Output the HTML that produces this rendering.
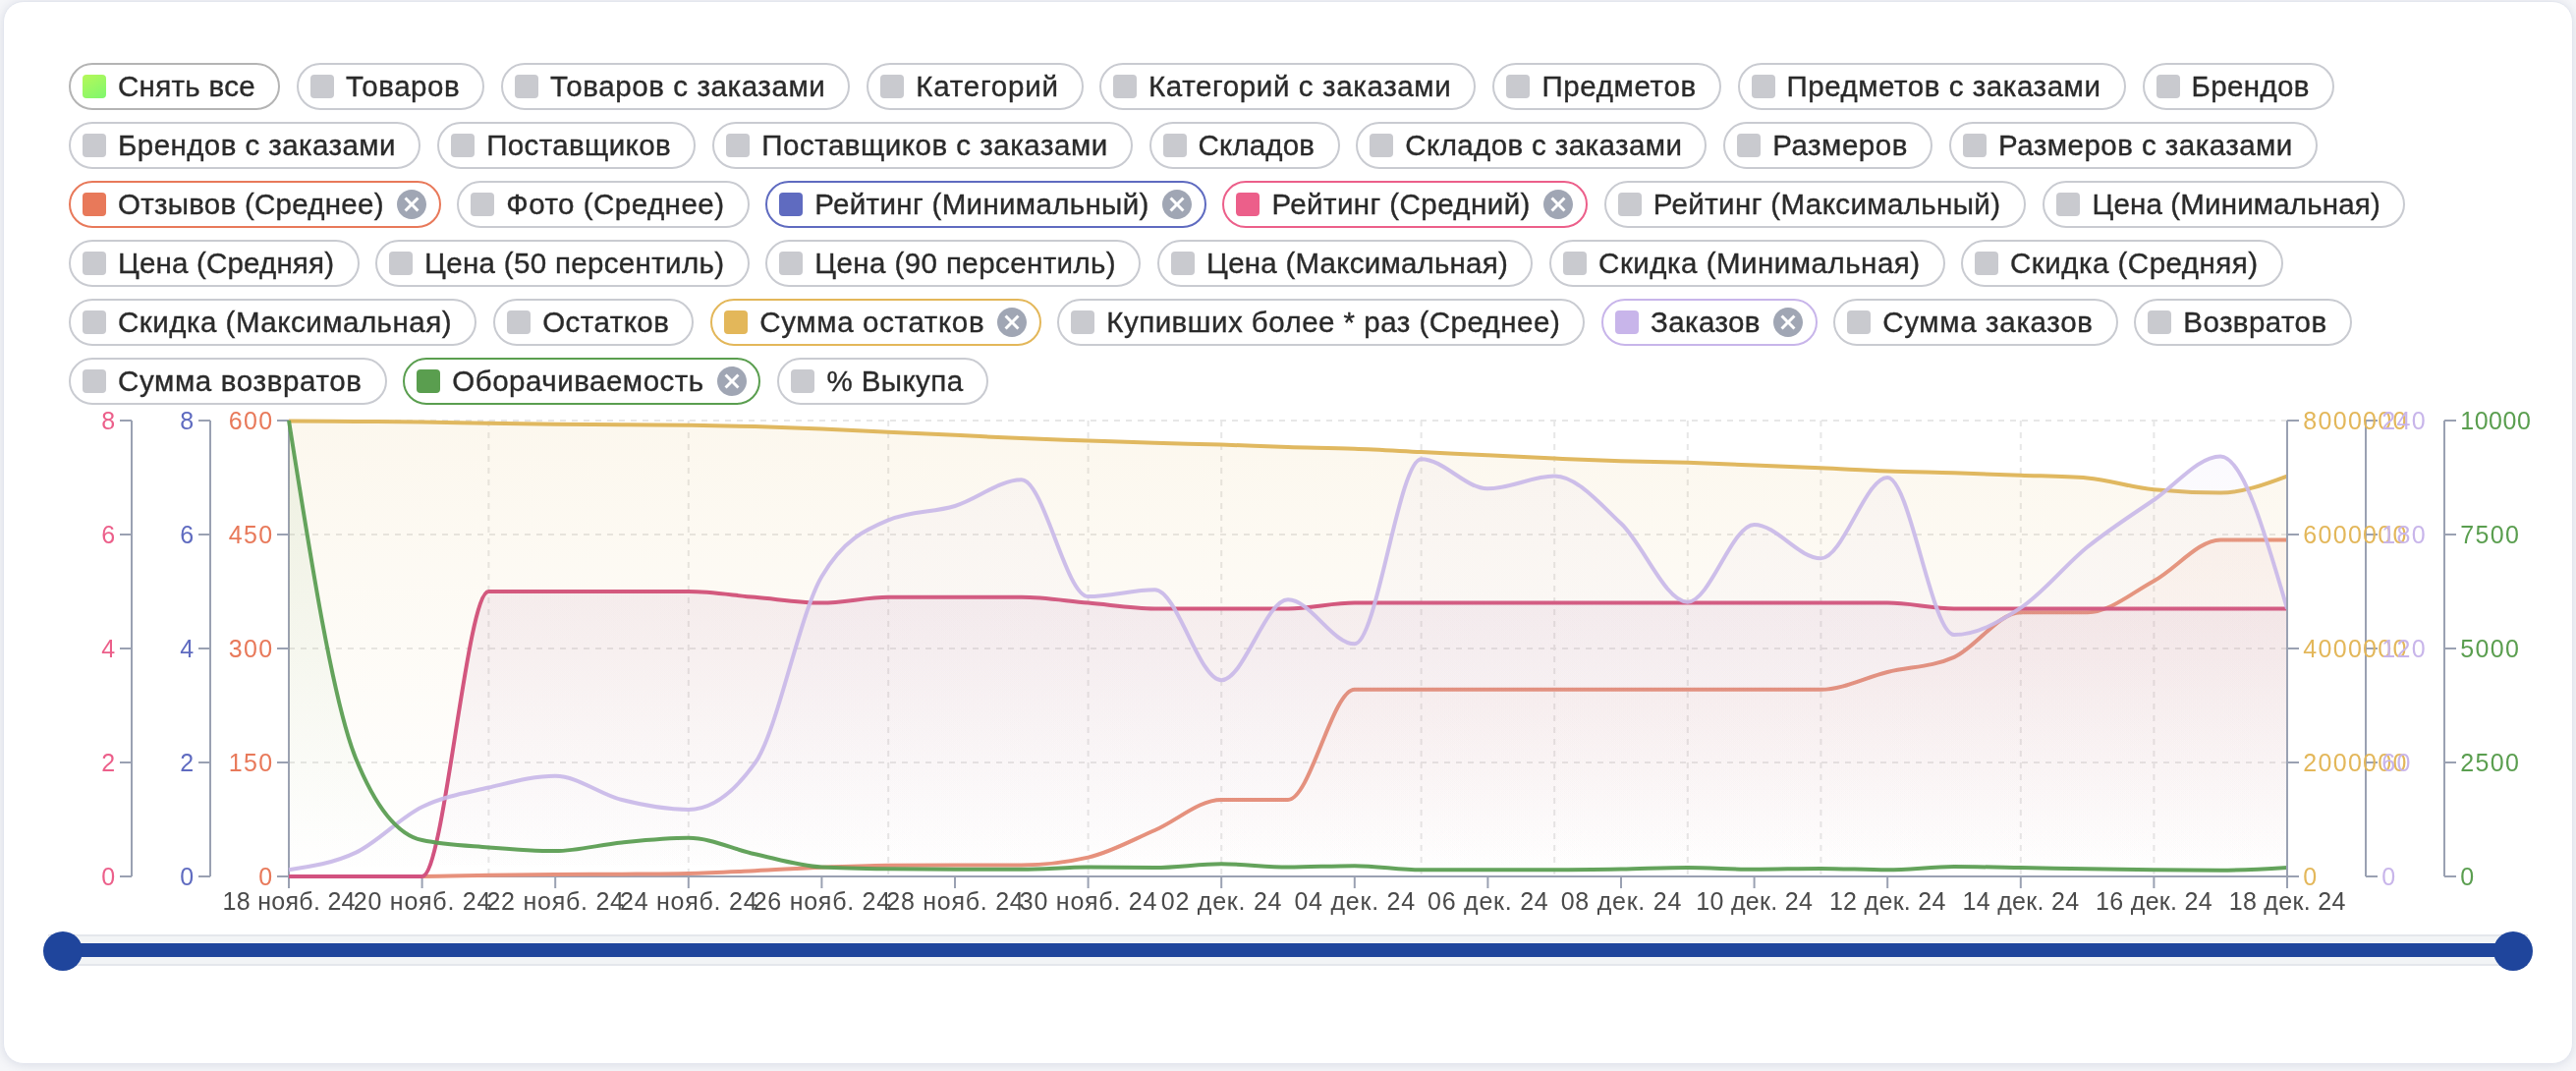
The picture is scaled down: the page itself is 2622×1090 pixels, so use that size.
<!DOCTYPE html>
<html lang="ru"><head><meta charset="utf-8"><title>chart</title>
<style>
html,body{margin:0;padding:0}
body{width:2622px;height:1090px;overflow:hidden;background:#F5F6F9;font-family:"Liberation Sans",sans-serif;position:relative}
#root{position:absolute;left:0;top:0;width:2622px;height:1090px;will-change:transform;transform:translateZ(0)}
.card{position:absolute;left:3px;top:1px;width:2614px;height:1080px;background:#fff;border:1px solid #E3E6EE;border-radius:21px;box-shadow:0 1px 9px 1px rgba(208,211,222,.62)}
.chip{position:absolute;height:48px;box-sizing:border-box;border:2px solid #C9CBD1;border-radius:24px;background:#fff;color:#2A2A2A;font-size:29.5px;line-height:44px;white-space:nowrap}
.chip i{position:absolute;left:12px;top:10px;width:24px;height:24px;border-radius:4px;display:block}
.chip .t{-webkit-text-stroke:0.35px #2A2A2A;position:absolute;left:48.0px;top:0px;display:inline-block}
.chip .x{position:absolute;right:9.6px;top:4px;width:36px;height:36px;fill:#A0A6B4}
.chart{position:absolute;left:0;top:0}
.track{position:absolute;left:49px;top:951px;width:2524px;height:32px;box-sizing:border-box;background:#F2F4F6;border-top:2px solid #E4E7EC;border-bottom:2px solid #E4E7EC}
.bar{position:absolute;left:64px;top:960px;width:2494px;height:14px;background:#1F459C}
.thumb{position:absolute;top:948px;width:40px;height:40px;border-radius:50%;background:#1F459C}
</style></head>
<body>
<div id="root">
<div class="card"></div>
<div class="chip" style="left:70.0px;top:64px;width:215.3px;border-color:#B4B4B4"><i style="background:linear-gradient(150deg,#B6F859 0%,#7EF76E 100%)"></i><span class="t" style="letter-spacing:0.318px;">Снять все</span></div>
<div class="chip" style="left:302.0px;top:64px;width:191.3px;border-color:#C9CBD1"><i style="background:#C9CACF"></i><span class="t" style="letter-spacing:0.557px;">Товаров</span></div>
<div class="chip" style="left:510.0px;top:64px;width:355.4px;border-color:#C9CBD1"><i style="background:#C9CACF"></i><span class="t" style="letter-spacing:0.591px;">Товаров с заказами</span></div>
<div class="chip" style="left:882.2px;top:64px;width:220.4px;border-color:#C9CBD1"><i style="background:#C9CACF"></i><span class="t" style="letter-spacing:0.797px;">Категорий</span></div>
<div class="chip" style="left:1119.0px;top:64px;width:383.3px;border-color:#C9CBD1"><i style="background:#C9CACF"></i><span class="t" style="letter-spacing:0.626px;">Категорий с заказами</span></div>
<div class="chip" style="left:1519.4px;top:64px;width:232.4px;border-color:#C9CBD1"><i style="background:#C9CACF"></i><span class="t" style="letter-spacing:0.655px;">Предметов</span></div>
<div class="chip" style="left:1768.5px;top:64px;width:395.0px;border-color:#C9CBD1"><i style="background:#C9CACF"></i><span class="t" style="letter-spacing:0.550px;">Предметов с заказами</span></div>
<div class="chip" style="left:2180.5px;top:64px;width:195.5px;border-color:#C9CBD1"><i style="background:#C9CACF"></i><span class="t" style="letter-spacing:0.356px;">Брендов</span></div>
<div class="chip" style="left:70.0px;top:124px;width:358.1px;border-color:#C9CBD1"><i style="background:#C9CACF"></i><span class="t" style="letter-spacing:0.432px;">Брендов с заказами</span></div>
<div class="chip" style="left:445.2px;top:124px;width:263.0px;border-color:#C9CBD1"><i style="background:#C9CACF"></i><span class="t" style="letter-spacing:0.371px;">Поставщиков</span></div>
<div class="chip" style="left:725.3px;top:124px;width:427.5px;border-color:#C9CBD1"><i style="background:#C9CACF"></i><span class="t" style="letter-spacing:0.515px;">Поставщиков с заказами</span></div>
<div class="chip" style="left:1169.5px;top:124px;width:194.1px;border-color:#C9CBD1"><i style="background:#C9CACF"></i><span class="t" style="letter-spacing:0.174px;">Складов</span></div>
<div class="chip" style="left:1380.3px;top:124px;width:357.2px;border-color:#C9CBD1"><i style="background:#C9CACF"></i><span class="t" style="letter-spacing:0.397px;">Складов с заказами</span></div>
<div class="chip" style="left:1754.2px;top:124px;width:212.8px;border-color:#C9CBD1"><i style="background:#C9CACF"></i><span class="t" style="letter-spacing:0.531px;">Размеров</span></div>
<div class="chip" style="left:1984.1px;top:124px;width:374.8px;border-color:#C9CBD1"><i style="background:#C9CACF"></i><span class="t" style="letter-spacing:0.463px;">Размеров с заказами</span></div>
<div class="chip" style="left:70.0px;top:184px;width:378.8px;border-color:#E8795A"><i style="background:#E8795A"></i><span class="t" style="letter-spacing:0.266px;">Отзывов (Среднее)</span><svg class="x" viewBox="0 0 24 24"><path d="M12 2C6.47 2 2 6.47 2 12s4.47 10 10 10 10-4.47 10-10S17.53 2 12 2zm5 13.59L15.59 17 12 13.41 8.41 17 7 15.59 10.59 12 7 8.41 8.41 7 12 10.59 15.59 7 17 8.41 13.41 12 17 15.59z"/></svg></div>
<div class="chip" style="left:465.3px;top:184px;width:297.3px;border-color:#C9CBD1"><i style="background:#C9CACF"></i><span class="t" style="letter-spacing:0.484px;">Фото (Среднее)</span></div>
<div class="chip" style="left:779.3px;top:184px;width:448.3px;border-color:#5F6BC0"><i style="background:#5F6BC0"></i><span class="t" style="letter-spacing:0.339px;">Рейтинг (Минимальный)</span><svg class="x" viewBox="0 0 24 24"><path d="M12 2C6.47 2 2 6.47 2 12s4.47 10 10 10 10-4.47 10-10S17.53 2 12 2zm5 13.59L15.59 17 12 13.41 8.41 17 7 15.59 10.59 12 7 8.41 8.41 7 12 10.59 15.59 7 17 8.41 13.41 12 17 15.59z"/></svg></div>
<div class="chip" style="left:1244.4px;top:184px;width:371.3px;border-color:#EC5F8A"><i style="background:#EC5F8A"></i><span class="t" style="letter-spacing:0.432px;">Рейтинг (Средний)</span><svg class="x" viewBox="0 0 24 24"><path d="M12 2C6.47 2 2 6.47 2 12s4.47 10 10 10 10-4.47 10-10S17.53 2 12 2zm5 13.59L15.59 17 12 13.41 8.41 17 7 15.59 10.59 12 7 8.41 8.41 7 12 10.59 15.59 7 17 8.41 13.41 12 17 15.59z"/></svg></div>
<div class="chip" style="left:1632.8px;top:184px;width:428.8px;border-color:#C9CBD1"><i style="background:#C9CACF"></i><span class="t" style="letter-spacing:0.382px;">Рейтинг (Максимальный)</span></div>
<div class="chip" style="left:2079.4px;top:184px;width:369.0px;border-color:#C9CBD1"><i style="background:#C9CACF"></i><span class="t" style="letter-spacing:0.168px;">Цена (Минимальная)</span></div>
<div class="chip" style="left:70.0px;top:244px;width:295.6px;border-color:#C9CBD1"><i style="background:#C9CACF"></i><span class="t" style="letter-spacing:0.177px;">Цена (Средняя)</span></div>
<div class="chip" style="left:382.0px;top:244px;width:380.6px;border-color:#C9CBD1"><i style="background:#C9CACF"></i><span class="t" style="letter-spacing:0.337px;">Цена (50 персентиль)</span></div>
<div class="chip" style="left:779.3px;top:244px;width:382.0px;border-color:#C9CBD1"><i style="background:#C9CACF"></i><span class="t" style="letter-spacing:0.411px;">Цена (90 персентиль)</span></div>
<div class="chip" style="left:1178.1px;top:244px;width:382.3px;border-color:#C9CBD1"><i style="background:#C9CACF"></i><span class="t" style="letter-spacing:0.233px;">Цена (Максимальная)</span></div>
<div class="chip" style="left:1577.1px;top:244px;width:402.6px;border-color:#C9CBD1"><i style="background:#C9CACF"></i><span class="t" style="letter-spacing:0.501px;">Скидка (Минимальная)</span></div>
<div class="chip" style="left:1996.0px;top:244px;width:327.7px;border-color:#C9CBD1"><i style="background:#C9CACF"></i><span class="t" style="letter-spacing:0.497px;">Скидка (Средняя)</span></div>
<div class="chip" style="left:70.0px;top:304px;width:415.1px;border-color:#C9CBD1"><i style="background:#C9CACF"></i><span class="t" style="letter-spacing:0.503px;">Скидка (Максимальная)</span></div>
<div class="chip" style="left:502.2px;top:304px;width:204.3px;border-color:#C9CBD1"><i style="background:#C9CACF"></i><span class="t" style="letter-spacing:0.462px;">Остатков</span></div>
<div class="chip" style="left:723.3px;top:304px;width:336.6px;border-color:#E3B75A"><i style="background:#E3B75A"></i><span class="t" style="letter-spacing:0.653px;">Сумма остатков</span><svg class="x" viewBox="0 0 24 24"><path d="M12 2C6.47 2 2 6.47 2 12s4.47 10 10 10 10-4.47 10-10S17.53 2 12 2zm5 13.59L15.59 17 12 13.41 8.41 17 7 15.59 10.59 12 7 8.41 8.41 7 12 10.59 15.59 7 17 8.41 13.41 12 17 15.59z"/></svg></div>
<div class="chip" style="left:1076.3px;top:304px;width:537.0px;border-color:#C9CBD1"><i style="background:#C9CACF"></i><span class="t" style="letter-spacing:0.485px;">Купивших более * раз (Среднее)</span></div>
<div class="chip" style="left:1630.1px;top:304px;width:219.7px;border-color:#C8B5EA"><i style="background:#C8B5EA"></i><span class="t" style="letter-spacing:0.377px;">Заказов</span><svg class="x" viewBox="0 0 24 24"><path d="M12 2C6.47 2 2 6.47 2 12s4.47 10 10 10 10-4.47 10-10S17.53 2 12 2zm5 13.59L15.59 17 12 13.41 8.41 17 7 15.59 10.59 12 7 8.41 8.41 7 12 10.59 15.59 7 17 8.41 13.41 12 17 15.59z"/></svg></div>
<div class="chip" style="left:1866.2px;top:304px;width:289.4px;border-color:#C9CBD1"><i style="background:#C9CACF"></i><span class="t" style="letter-spacing:0.672px;">Сумма заказов</span></div>
<div class="chip" style="left:2172.3px;top:304px;width:221.4px;border-color:#C9CBD1"><i style="background:#C9CACF"></i><span class="t" style="letter-spacing:0.428px;">Возвратов</span></div>
<div class="chip" style="left:70.0px;top:364px;width:323.6px;border-color:#C9CBD1"><i style="background:#C9CACF"></i><span class="t" style="letter-spacing:0.647px;">Сумма возвратов</span></div>
<div class="chip" style="left:410.3px;top:364px;width:364.2px;border-color:#5A9E4F"><i style="background:#5A9E4F"></i><span class="t" style="letter-spacing:0.512px;">Оборачиваемость</span><svg class="x" viewBox="0 0 24 24"><path d="M12 2C6.47 2 2 6.47 2 12s4.47 10 10 10 10-4.47 10-10S17.53 2 12 2zm5 13.59L15.59 17 12 13.41 8.41 17 7 15.59 10.59 12 7 8.41 8.41 7 12 10.59 15.59 7 17 8.41 13.41 12 17 15.59z"/></svg></div>
<div class="chip" style="left:791.4px;top:364px;width:214.3px;border-color:#C9CBD1"><i style="background:#C9CACF"></i><span class="t" style="letter-spacing:0.430px;">% Выкупа</span></div>
<svg class="chart" width="2622" height="1090" viewBox="0 0 2622 1090">
<defs>
<linearGradient id="g_orange" gradientUnits="userSpaceOnUse" x1="0" y1="428.0" x2="0" y2="892.0"><stop offset="0" stop-color="#E8795A" stop-opacity="0.075"/><stop offset="1" stop-color="#E8795A" stop-opacity="0.0"/></linearGradient>
<linearGradient id="g_indigo" gradientUnits="userSpaceOnUse" x1="0" y1="428.0" x2="0" y2="892.0"><stop offset="0" stop-color="#5F6BC0" stop-opacity="0.082"/><stop offset="1" stop-color="#5F6BC0" stop-opacity="0.0"/></linearGradient>
<linearGradient id="g_pink" gradientUnits="userSpaceOnUse" x1="0" y1="428.0" x2="0" y2="892.0"><stop offset="0" stop-color="#EC5F8A" stop-opacity="0.082"/><stop offset="1" stop-color="#EC5F8A" stop-opacity="0.0"/></linearGradient>
<linearGradient id="g_gold" gradientUnits="userSpaceOnUse" x1="0" y1="428.0" x2="0" y2="892.0"><stop offset="0" stop-color="#E3B75A" stop-opacity="0.105"/><stop offset="1" stop-color="#E3B75A" stop-opacity="0.0"/></linearGradient>
<linearGradient id="g_lav" gradientUnits="userSpaceOnUse" x1="0" y1="428.0" x2="0" y2="892.0"><stop offset="0" stop-color="#C8B5EA" stop-opacity="0.075"/><stop offset="1" stop-color="#C8B5EA" stop-opacity="0.0"/></linearGradient>
<linearGradient id="g_green" gradientUnits="userSpaceOnUse" x1="0" y1="428.0" x2="0" y2="892.0"><stop offset="0" stop-color="#5A9E4F" stop-opacity="0.095"/><stop offset="1" stop-color="#5A9E4F" stop-opacity="0.0"/></linearGradient>
<clipPath id="plot"><rect x="292.0" y="420.0" width="2036.6" height="476.0"/></clipPath>
</defs>
<g stroke="#E7E7E7" stroke-width="2" stroke-dasharray="6 6" fill="none">
<line x1="294.0" y1="892.0" x2="2328.0" y2="892.0"/>
<line x1="294.0" y1="776.0" x2="2328.0" y2="776.0"/>
<line x1="294.0" y1="660.0" x2="2328.0" y2="660.0"/>
<line x1="294.0" y1="544.0" x2="2328.0" y2="544.0"/>
<line x1="294.0" y1="428.0" x2="2328.0" y2="428.0"/>
<line x1="294.00" y1="428.0" x2="294.00" y2="892.0"/>
<line x1="497.40" y1="428.0" x2="497.40" y2="892.0"/>
<line x1="700.80" y1="428.0" x2="700.80" y2="892.0"/>
<line x1="904.20" y1="428.0" x2="904.20" y2="892.0"/>
<line x1="1107.60" y1="428.0" x2="1107.60" y2="892.0"/>
<line x1="1243.20" y1="428.0" x2="1243.20" y2="892.0"/>
<line x1="1446.60" y1="428.0" x2="1446.60" y2="892.0"/>
<line x1="1582.20" y1="428.0" x2="1582.20" y2="892.0"/>
<line x1="1717.80" y1="428.0" x2="1717.80" y2="892.0"/>
<line x1="1853.40" y1="428.0" x2="1853.40" y2="892.0"/>
<line x1="2056.80" y1="428.0" x2="2056.80" y2="892.0"/>
<line x1="2192.40" y1="428.0" x2="2192.40" y2="892.0"/>
<line x1="2328.00" y1="428.0" x2="2328.00" y2="892.0"/>
</g>
<g stroke="#9AA1B2" stroke-width="2" fill="none">
<line x1="294.0" y1="892.0" x2="2328.0" y2="892.0"/>
<line x1="294.00" y1="892.0" x2="294.00" y2="904.0"/>
<line x1="429.60" y1="892.0" x2="429.60" y2="904.0"/>
<line x1="565.20" y1="892.0" x2="565.20" y2="904.0"/>
<line x1="700.80" y1="892.0" x2="700.80" y2="904.0"/>
<line x1="836.40" y1="892.0" x2="836.40" y2="904.0"/>
<line x1="972.00" y1="892.0" x2="972.00" y2="904.0"/>
<line x1="1107.60" y1="892.0" x2="1107.60" y2="904.0"/>
<line x1="1243.20" y1="892.0" x2="1243.20" y2="904.0"/>
<line x1="1378.80" y1="892.0" x2="1378.80" y2="904.0"/>
<line x1="1514.40" y1="892.0" x2="1514.40" y2="904.0"/>
<line x1="1650.00" y1="892.0" x2="1650.00" y2="904.0"/>
<line x1="1785.60" y1="892.0" x2="1785.60" y2="904.0"/>
<line x1="1921.20" y1="892.0" x2="1921.20" y2="904.0"/>
<line x1="2056.80" y1="892.0" x2="2056.80" y2="904.0"/>
<line x1="2192.40" y1="892.0" x2="2192.40" y2="904.0"/>
<line x1="2328.00" y1="892.0" x2="2328.00" y2="904.0"/>
<line x1="134" y1="428.0" x2="134" y2="892.0"/>
<line x1="122" y1="892.0" x2="134" y2="892.0"/>
<line x1="122" y1="776.0" x2="134" y2="776.0"/>
<line x1="122" y1="660.0" x2="134" y2="660.0"/>
<line x1="122" y1="544.0" x2="134" y2="544.0"/>
<line x1="122" y1="428.0" x2="134" y2="428.0"/>
<line x1="214" y1="428.0" x2="214" y2="892.0"/>
<line x1="202" y1="892.0" x2="214" y2="892.0"/>
<line x1="202" y1="776.0" x2="214" y2="776.0"/>
<line x1="202" y1="660.0" x2="214" y2="660.0"/>
<line x1="202" y1="544.0" x2="214" y2="544.0"/>
<line x1="202" y1="428.0" x2="214" y2="428.0"/>
<line x1="294" y1="428.0" x2="294" y2="892.0"/>
<line x1="282" y1="892.0" x2="294" y2="892.0"/>
<line x1="282" y1="776.0" x2="294" y2="776.0"/>
<line x1="282" y1="660.0" x2="294" y2="660.0"/>
<line x1="282" y1="544.0" x2="294" y2="544.0"/>
<line x1="282" y1="428.0" x2="294" y2="428.0"/>
<line x1="2328" y1="428.0" x2="2328" y2="892.0"/>
<line x1="2328" y1="892.0" x2="2340" y2="892.0"/>
<line x1="2328" y1="776.0" x2="2340" y2="776.0"/>
<line x1="2328" y1="660.0" x2="2340" y2="660.0"/>
<line x1="2328" y1="544.0" x2="2340" y2="544.0"/>
<line x1="2328" y1="428.0" x2="2340" y2="428.0"/>
<line x1="2408" y1="428.0" x2="2408" y2="892.0"/>
<line x1="2408" y1="892.0" x2="2420" y2="892.0"/>
<line x1="2408" y1="776.0" x2="2420" y2="776.0"/>
<line x1="2408" y1="660.0" x2="2420" y2="660.0"/>
<line x1="2408" y1="544.0" x2="2420" y2="544.0"/>
<line x1="2408" y1="428.0" x2="2420" y2="428.0"/>
<line x1="2488" y1="428.0" x2="2488" y2="892.0"/>
<line x1="2488" y1="892.0" x2="2500" y2="892.0"/>
<line x1="2488" y1="776.0" x2="2500" y2="776.0"/>
<line x1="2488" y1="660.0" x2="2500" y2="660.0"/>
<line x1="2488" y1="544.0" x2="2500" y2="544.0"/>
<line x1="2488" y1="428.0" x2="2500" y2="428.0"/>
</g>
<g font-size="25" letter-spacing="1.3" font-family="Liberation Sans, sans-serif">
<text x="118.4" y="901.0" text-anchor="end" letter-spacing="1.3" fill="#EC5F8A">0</text><text x="118.4" y="785.0" text-anchor="end" letter-spacing="1.3" fill="#EC5F8A">2</text><text x="118.4" y="669.0" text-anchor="end" letter-spacing="1.3" fill="#EC5F8A">4</text><text x="118.4" y="553.0" text-anchor="end" letter-spacing="1.3" fill="#EC5F8A">6</text><text x="118.4" y="437.0" text-anchor="end" letter-spacing="1.3" fill="#EC5F8A">8</text>
<text x="198.4" y="901.0" text-anchor="end" letter-spacing="1.3" fill="#5F6BC0">0</text><text x="198.4" y="785.0" text-anchor="end" letter-spacing="1.3" fill="#5F6BC0">2</text><text x="198.4" y="669.0" text-anchor="end" letter-spacing="1.3" fill="#5F6BC0">4</text><text x="198.4" y="553.0" text-anchor="end" letter-spacing="1.3" fill="#5F6BC0">6</text><text x="198.4" y="437.0" text-anchor="end" letter-spacing="1.3" fill="#5F6BC0">8</text>
<text x="278.4" y="901.0" text-anchor="end" letter-spacing="1.3" fill="#E8795A">0</text><text x="278.4" y="785.0" text-anchor="end" letter-spacing="1.3" fill="#E8795A">150</text><text x="278.4" y="669.0" text-anchor="end" letter-spacing="1.3" fill="#E8795A">300</text><text x="278.4" y="553.0" text-anchor="end" letter-spacing="1.3" fill="#E8795A">450</text><text x="278.4" y="437.0" text-anchor="end" letter-spacing="1.3" fill="#E8795A">600</text>
<text x="2344.3" y="901.0" text-anchor="start" letter-spacing="1.3" fill="#E3B75A">0</text><text x="2344.3" y="785.0" text-anchor="start" letter-spacing="1.3" fill="#E3B75A">2000000</text><text x="2344.3" y="669.0" text-anchor="start" letter-spacing="1.3" fill="#E3B75A">4000000</text><text x="2344.3" y="553.0" text-anchor="start" letter-spacing="1.3" fill="#E3B75A">6000000</text><text x="2344.3" y="437.0" text-anchor="start" letter-spacing="1.3" fill="#E3B75A">8000000</text>
<text x="2424.3" y="901.0" text-anchor="start" letter-spacing="1.3" fill="#C8B5EA">0</text><text x="2424.3" y="785.0" text-anchor="start" letter-spacing="1.3" fill="#C8B5EA">60</text><text x="2424.3" y="669.0" text-anchor="start" letter-spacing="1.3" fill="#C8B5EA">120</text><text x="2424.3" y="553.0" text-anchor="start" letter-spacing="1.3" fill="#C8B5EA">180</text><text x="2424.3" y="437.0" text-anchor="start" letter-spacing="1.3" fill="#C8B5EA">240</text>
<text x="2504.3" y="901.0" text-anchor="start" letter-spacing="1.3" fill="#5A9E4F">0</text><text x="2504.3" y="785.0" text-anchor="start" letter-spacing="1.3" fill="#5A9E4F">2500</text><text x="2504.3" y="669.0" text-anchor="start" letter-spacing="1.3" fill="#5A9E4F">5000</text><text x="2504.3" y="553.0" text-anchor="start" letter-spacing="1.3" fill="#5A9E4F">7500</text><text x="2504.3" y="437.0" text-anchor="start" letter-spacing="0.5" fill="#5A9E4F">10000</text>
</g>
<g font-size="25" fill="#4A4A4A" text-anchor="middle" font-family="Liberation Sans, sans-serif">
<text x="294.15" y="925.5" letter-spacing="0.3">18 нояб. 24</text>
<text x="429.98" y="925.5" letter-spacing="0.75">20 нояб. 24</text>
<text x="565.58" y="925.5" letter-spacing="0.75">22 нояб. 24</text>
<text x="701.17" y="925.5" letter-spacing="0.75">24 нояб. 24</text>
<text x="836.77" y="925.5" letter-spacing="0.75">26 нояб. 24</text>
<text x="972.38" y="925.5" letter-spacing="0.75">28 нояб. 24</text>
<text x="1107.97" y="925.5" letter-spacing="0.75">30 нояб. 24</text>
<text x="1243.57" y="925.5" letter-spacing="0.75">02 дек. 24</text>
<text x="1379.17" y="925.5" letter-spacing="0.75">04 дек. 24</text>
<text x="1514.77" y="925.5" letter-spacing="0.75">06 дек. 24</text>
<text x="1650.38" y="925.5" letter-spacing="0.75">08 дек. 24</text>
<text x="1785.75" y="925.5" letter-spacing="0.3">10 дек. 24</text>
<text x="1921.35" y="925.5" letter-spacing="0.3">12 дек. 24</text>
<text x="2056.95" y="925.5" letter-spacing="0.3">14 дек. 24</text>
<text x="2192.55" y="925.5" letter-spacing="0.3">16 дек. 24</text>
<text x="2328.15" y="925.5" letter-spacing="0.3">18 дек. 24</text>
</g>
<g clip-path="url(#plot)">
<path d="M294.00,892.00C316.60,892.00,339.20,892.00,361.80,892.00C384.40,892.00,407.00,892.00,429.60,892.00C452.20,892.00,474.80,891.16,497.40,890.84C520.00,890.52,542.60,890.26,565.20,890.07C587.80,889.87,610.40,889.87,633.00,889.68C655.60,889.49,678.20,889.42,700.80,888.91C723.40,888.39,746.00,887.23,768.60,886.20C791.20,885.17,813.80,883.64,836.40,882.72C859.00,881.80,881.60,880.92,904.20,880.71C926.80,880.50,949.40,880.40,972.00,880.40C994.60,880.40,1017.20,880.40,1039.80,880.40C1062.40,880.40,1085.00,877.82,1107.60,872.67C1130.20,867.51,1152.80,854.78,1175.40,844.98C1198.00,835.19,1220.60,813.89,1243.20,813.89C1265.80,813.89,1288.40,813.89,1311.00,813.89C1333.60,813.89,1356.20,701.76,1378.80,701.76C1401.40,701.76,1424.00,701.76,1446.60,701.76C1469.20,701.76,1491.80,701.76,1514.40,701.76C1537.00,701.76,1559.60,701.76,1582.20,701.76C1604.80,701.76,1627.40,701.76,1650.00,701.76C1672.60,701.76,1695.20,701.76,1717.80,701.76C1740.40,701.76,1763.00,701.76,1785.60,701.76C1808.20,701.76,1830.80,701.76,1853.40,701.76C1876.00,701.76,1898.60,689.45,1921.20,683.97C1943.80,678.50,1966.40,678.95,1989.00,668.89C2011.60,658.84,2034.20,623.19,2056.80,623.19C2079.40,623.19,2102.00,623.19,2124.60,623.19C2147.20,623.19,2169.80,603.47,2192.40,591.17C2215.00,578.88,2237.60,549.41,2260.20,549.41C2282.80,549.41,2305.40,549.41,2328.00,549.41L2328.00,892.00L294.00,892.00Z" fill="url(#g_orange)" stroke="none"/><path d="M294.00,892.00C316.60,892.00,339.20,892.00,361.80,892.00C384.40,892.00,407.00,892.00,429.60,892.00C452.20,892.00,474.80,891.16,497.40,890.84C520.00,890.52,542.60,890.26,565.20,890.07C587.80,889.87,610.40,889.87,633.00,889.68C655.60,889.49,678.20,889.42,700.80,888.91C723.40,888.39,746.00,887.23,768.60,886.20C791.20,885.17,813.80,883.64,836.40,882.72C859.00,881.80,881.60,880.92,904.20,880.71C926.80,880.50,949.40,880.40,972.00,880.40C994.60,880.40,1017.20,880.40,1039.80,880.40C1062.40,880.40,1085.00,877.82,1107.60,872.67C1130.20,867.51,1152.80,854.78,1175.40,844.98C1198.00,835.19,1220.60,813.89,1243.20,813.89C1265.80,813.89,1288.40,813.89,1311.00,813.89C1333.60,813.89,1356.20,701.76,1378.80,701.76C1401.40,701.76,1424.00,701.76,1446.60,701.76C1469.20,701.76,1491.80,701.76,1514.40,701.76C1537.00,701.76,1559.60,701.76,1582.20,701.76C1604.80,701.76,1627.40,701.76,1650.00,701.76C1672.60,701.76,1695.20,701.76,1717.80,701.76C1740.40,701.76,1763.00,701.76,1785.60,701.76C1808.20,701.76,1830.80,701.76,1853.40,701.76C1876.00,701.76,1898.60,689.45,1921.20,683.97C1943.80,678.50,1966.40,678.95,1989.00,668.89C2011.60,658.84,2034.20,623.19,2056.80,623.19C2079.40,623.19,2102.00,623.19,2124.60,623.19C2147.20,623.19,2169.80,603.47,2192.40,591.17C2215.00,578.88,2237.60,549.41,2260.20,549.41C2282.80,549.41,2305.40,549.41,2328.00,549.41" fill="none" stroke="#E7917C" stroke-width="4" stroke-opacity="1.0" stroke-linejoin="round" stroke-linecap="butt"/>
<path d="M294.00,892.00C316.60,892.00,339.20,892.00,361.80,892.00C384.40,892.00,407.00,892.00,429.60,892.00C452.20,892.00,474.80,602.00,497.40,602.00C520.00,602.00,542.60,602.00,565.20,602.00C587.80,602.00,610.40,602.00,633.00,602.00C655.60,602.00,678.20,602.00,700.80,602.00C723.40,602.00,746.00,605.87,768.60,607.80C791.20,609.73,813.80,613.60,836.40,613.60C859.00,613.60,881.60,607.80,904.20,607.80C926.80,607.80,949.40,607.80,972.00,607.80C994.60,607.80,1017.20,607.80,1039.80,607.80C1062.40,607.80,1085.00,611.67,1107.60,613.60C1130.20,615.53,1152.80,619.40,1175.40,619.40C1198.00,619.40,1220.60,619.40,1243.20,619.40C1265.80,619.40,1288.40,619.40,1311.00,619.40C1333.60,619.40,1356.20,613.60,1378.80,613.60C1401.40,613.60,1424.00,613.60,1446.60,613.60C1469.20,613.60,1491.80,613.60,1514.40,613.60C1537.00,613.60,1559.60,613.60,1582.20,613.60C1604.80,613.60,1627.40,613.60,1650.00,613.60C1672.60,613.60,1695.20,613.60,1717.80,613.60C1740.40,613.60,1763.00,613.60,1785.60,613.60C1808.20,613.60,1830.80,613.60,1853.40,613.60C1876.00,613.60,1898.60,613.60,1921.20,613.60C1943.80,613.60,1966.40,619.40,1989.00,619.40C2011.60,619.40,2034.20,619.40,2056.80,619.40C2079.40,619.40,2102.00,619.40,2124.60,619.40C2147.20,619.40,2169.80,619.40,2192.40,619.40C2215.00,619.40,2237.60,619.40,2260.20,619.40C2282.80,619.40,2305.40,619.40,2328.00,619.40L2328.00,892.00L294.00,892.00Z" fill="url(#g_indigo)" stroke="none"/>
<path d="M294.00,892.00C316.60,892.00,339.20,892.00,361.80,892.00C384.40,892.00,407.00,892.00,429.60,892.00C452.20,892.00,474.80,602.00,497.40,602.00C520.00,602.00,542.60,602.00,565.20,602.00C587.80,602.00,610.40,602.00,633.00,602.00C655.60,602.00,678.20,602.00,700.80,602.00C723.40,602.00,746.00,605.87,768.60,607.80C791.20,609.73,813.80,613.60,836.40,613.60C859.00,613.60,881.60,607.80,904.20,607.80C926.80,607.80,949.40,607.80,972.00,607.80C994.60,607.80,1017.20,607.80,1039.80,607.80C1062.40,607.80,1085.00,611.67,1107.60,613.60C1130.20,615.53,1152.80,619.40,1175.40,619.40C1198.00,619.40,1220.60,619.40,1243.20,619.40C1265.80,619.40,1288.40,619.40,1311.00,619.40C1333.60,619.40,1356.20,613.60,1378.80,613.60C1401.40,613.60,1424.00,613.60,1446.60,613.60C1469.20,613.60,1491.80,613.60,1514.40,613.60C1537.00,613.60,1559.60,613.60,1582.20,613.60C1604.80,613.60,1627.40,613.60,1650.00,613.60C1672.60,613.60,1695.20,613.60,1717.80,613.60C1740.40,613.60,1763.00,613.60,1785.60,613.60C1808.20,613.60,1830.80,613.60,1853.40,613.60C1876.00,613.60,1898.60,613.60,1921.20,613.60C1943.80,613.60,1966.40,619.40,1989.00,619.40C2011.60,619.40,2034.20,619.40,2056.80,619.40C2079.40,619.40,2102.00,619.40,2124.60,619.40C2147.20,619.40,2169.80,619.40,2192.40,619.40C2215.00,619.40,2237.60,619.40,2260.20,619.40C2282.80,619.40,2305.40,619.40,2328.00,619.40L2328.00,892.00L294.00,892.00Z" fill="url(#g_pink)" stroke="none"/><path d="M294.00,892.00C316.60,892.00,339.20,892.00,361.80,892.00C384.40,892.00,407.00,892.00,429.60,892.00C452.20,892.00,474.80,602.00,497.40,602.00C520.00,602.00,542.60,602.00,565.20,602.00C587.80,602.00,610.40,602.00,633.00,602.00C655.60,602.00,678.20,602.00,700.80,602.00C723.40,602.00,746.00,605.87,768.60,607.80C791.20,609.73,813.80,613.60,836.40,613.60C859.00,613.60,881.60,607.80,904.20,607.80C926.80,607.80,949.40,607.80,972.00,607.80C994.60,607.80,1017.20,607.80,1039.80,607.80C1062.40,607.80,1085.00,611.67,1107.60,613.60C1130.20,615.53,1152.80,619.40,1175.40,619.40C1198.00,619.40,1220.60,619.40,1243.20,619.40C1265.80,619.40,1288.40,619.40,1311.00,619.40C1333.60,619.40,1356.20,613.60,1378.80,613.60C1401.40,613.60,1424.00,613.60,1446.60,613.60C1469.20,613.60,1491.80,613.60,1514.40,613.60C1537.00,613.60,1559.60,613.60,1582.20,613.60C1604.80,613.60,1627.40,613.60,1650.00,613.60C1672.60,613.60,1695.20,613.60,1717.80,613.60C1740.40,613.60,1763.00,613.60,1785.60,613.60C1808.20,613.60,1830.80,613.60,1853.40,613.60C1876.00,613.60,1898.60,613.60,1921.20,613.60C1943.80,613.60,1966.40,619.40,1989.00,619.40C2011.60,619.40,2034.20,619.40,2056.80,619.40C2079.40,619.40,2102.00,619.40,2124.60,619.40C2147.20,619.40,2169.80,619.40,2192.40,619.40C2215.00,619.40,2237.60,619.40,2260.20,619.40C2282.80,619.40,2305.40,619.40,2328.00,619.40" fill="none" stroke="#D25280" stroke-width="4" stroke-opacity="1.0" stroke-linejoin="round" stroke-linecap="butt"/>
<path d="M294.00,428.46C316.60,428.62,339.20,428.77,361.80,428.93C384.40,429.08,407.00,429.08,429.60,429.39C452.20,429.70,474.80,430.40,497.40,430.78C520.00,431.17,542.60,431.48,565.20,431.71C587.80,431.94,610.40,431.99,633.00,432.18C655.60,432.36,678.20,432.52,700.80,432.83C723.40,433.13,746.00,433.42,768.60,434.03C791.20,434.64,813.80,435.54,836.40,436.49C859.00,437.44,881.60,438.68,904.20,439.74C926.80,440.80,949.40,441.79,972.00,442.85C994.60,443.91,1017.20,445.17,1039.80,446.10C1062.40,447.02,1085.00,447.64,1107.60,448.42C1130.20,449.19,1152.80,450.04,1175.40,450.74C1198.00,451.43,1220.60,451.90,1243.20,452.59C1265.80,453.29,1288.40,454.22,1311.00,454.91C1333.60,455.61,1356.20,455.92,1378.80,456.77C1401.40,457.62,1424.00,458.93,1446.60,460.02C1469.20,461.10,1491.80,462.18,1514.40,463.26C1537.00,464.35,1559.60,465.51,1582.20,466.51C1604.80,467.52,1627.40,468.58,1650.00,469.30C1672.60,470.02,1695.20,470.12,1717.80,470.83C1740.40,471.54,1763.00,472.66,1785.60,473.56C1808.20,474.47,1830.80,475.27,1853.40,476.26C1876.00,477.25,1898.60,478.65,1921.20,479.50C1943.80,480.35,1966.40,480.66,1989.00,481.36C2011.60,482.06,2034.20,482.83,2056.80,483.68C2079.40,484.53,2102.00,484.61,2124.60,486.46C2147.20,488.32,2169.80,496.12,2192.40,498.25C2215.00,500.38,2237.60,501.45,2260.20,501.45C2282.80,501.45,2305.40,493.03,2328.00,484.61L2328.00,892.00L294.00,892.00Z" fill="url(#g_gold)" stroke="none"/><path d="M294.00,428.46C316.60,428.62,339.20,428.77,361.80,428.93C384.40,429.08,407.00,429.08,429.60,429.39C452.20,429.70,474.80,430.40,497.40,430.78C520.00,431.17,542.60,431.48,565.20,431.71C587.80,431.94,610.40,431.99,633.00,432.18C655.60,432.36,678.20,432.52,700.80,432.83C723.40,433.13,746.00,433.42,768.60,434.03C791.20,434.64,813.80,435.54,836.40,436.49C859.00,437.44,881.60,438.68,904.20,439.74C926.80,440.80,949.40,441.79,972.00,442.85C994.60,443.91,1017.20,445.17,1039.80,446.10C1062.40,447.02,1085.00,447.64,1107.60,448.42C1130.20,449.19,1152.80,450.04,1175.40,450.74C1198.00,451.43,1220.60,451.90,1243.20,452.59C1265.80,453.29,1288.40,454.22,1311.00,454.91C1333.60,455.61,1356.20,455.92,1378.80,456.77C1401.40,457.62,1424.00,458.93,1446.60,460.02C1469.20,461.10,1491.80,462.18,1514.40,463.26C1537.00,464.35,1559.60,465.51,1582.20,466.51C1604.80,467.52,1627.40,468.58,1650.00,469.30C1672.60,470.02,1695.20,470.12,1717.80,470.83C1740.40,471.54,1763.00,472.66,1785.60,473.56C1808.20,474.47,1830.80,475.27,1853.40,476.26C1876.00,477.25,1898.60,478.65,1921.20,479.50C1943.80,480.35,1966.40,480.66,1989.00,481.36C2011.60,482.06,2034.20,482.83,2056.80,483.68C2079.40,484.53,2102.00,484.61,2124.60,486.46C2147.20,488.32,2169.80,496.12,2192.40,498.25C2215.00,500.38,2237.60,501.45,2260.20,501.45C2282.80,501.45,2305.40,493.03,2328.00,484.61" fill="none" stroke="#E0B860" stroke-width="4" stroke-opacity="1.0" stroke-linejoin="round" stroke-linecap="butt"/>
<path d="M294.00,885.27C316.60,881.91,339.20,878.54,361.80,867.87C384.40,857.20,407.00,832.30,429.60,821.24C452.20,810.18,474.80,806.78,497.40,801.52C520.00,796.26,542.60,789.69,565.20,789.69C587.80,789.69,610.40,808.33,633.00,814.05C655.60,819.76,678.20,823.98,700.80,823.98C723.40,823.98,746.00,808.14,768.60,776.46C791.20,744.79,813.80,624.89,836.40,586.69C859.00,548.49,881.60,538.97,904.20,529.38C926.80,519.79,949.40,521.84,972.00,515.00C994.60,508.16,1017.20,488.32,1039.80,488.32C1062.40,488.32,1085.00,607.10,1107.60,607.10C1130.20,607.10,1152.80,600.28,1175.40,600.28C1198.00,600.28,1220.60,692.25,1243.20,692.25C1265.80,692.25,1288.40,610.35,1311.00,610.35C1333.60,610.35,1356.20,655.36,1378.80,655.36C1401.40,655.36,1424.00,467.16,1446.60,467.16C1469.20,467.16,1491.80,497.37,1514.40,497.37C1537.00,497.37,1559.60,484.61,1582.20,484.61C1604.80,484.61,1627.40,511.47,1650.00,532.82C1672.60,554.16,1695.20,612.67,1717.80,612.67C1740.40,612.67,1763.00,533.98,1785.60,533.98C1808.20,533.98,1830.80,568.27,1853.40,568.27C1876.00,568.27,1898.60,486.00,1921.20,486.00C1943.80,486.00,1966.40,646.08,1989.00,646.08C2011.60,646.08,2034.20,633.58,2056.80,618.70C2079.40,603.83,2102.00,575.13,2124.60,556.81C2147.20,538.48,2169.80,524.13,2192.40,508.74C2215.00,493.34,2237.60,464.42,2260.20,464.42C2282.80,464.42,2305.40,541.96,2328.00,619.49L2328.00,892.00L294.00,892.00Z" fill="url(#g_lav)" stroke="none"/><path d="M294.00,885.27C316.60,881.91,339.20,878.54,361.80,867.87C384.40,857.20,407.00,832.30,429.60,821.24C452.20,810.18,474.80,806.78,497.40,801.52C520.00,796.26,542.60,789.69,565.20,789.69C587.80,789.69,610.40,808.33,633.00,814.05C655.60,819.76,678.20,823.98,700.80,823.98C723.40,823.98,746.00,808.14,768.60,776.46C791.20,744.79,813.80,624.89,836.40,586.69C859.00,548.49,881.60,538.97,904.20,529.38C926.80,519.79,949.40,521.84,972.00,515.00C994.60,508.16,1017.20,488.32,1039.80,488.32C1062.40,488.32,1085.00,607.10,1107.60,607.10C1130.20,607.10,1152.80,600.28,1175.40,600.28C1198.00,600.28,1220.60,692.25,1243.20,692.25C1265.80,692.25,1288.40,610.35,1311.00,610.35C1333.60,610.35,1356.20,655.36,1378.80,655.36C1401.40,655.36,1424.00,467.16,1446.60,467.16C1469.20,467.16,1491.80,497.37,1514.40,497.37C1537.00,497.37,1559.60,484.61,1582.20,484.61C1604.80,484.61,1627.40,511.47,1650.00,532.82C1672.60,554.16,1695.20,612.67,1717.80,612.67C1740.40,612.67,1763.00,533.98,1785.60,533.98C1808.20,533.98,1830.80,568.27,1853.40,568.27C1876.00,568.27,1898.60,486.00,1921.20,486.00C1943.80,486.00,1966.40,646.08,1989.00,646.08C2011.60,646.08,2034.20,633.58,2056.80,618.70C2079.40,603.83,2102.00,575.13,2124.60,556.81C2147.20,538.48,2169.80,524.13,2192.40,508.74C2215.00,493.34,2237.60,464.42,2260.20,464.42C2282.80,464.42,2305.40,541.96,2328.00,619.49" fill="none" stroke="#C9B8E8" stroke-width="4" stroke-opacity="0.92" stroke-linejoin="round" stroke-linecap="butt"/>
<path d="M294.00,428.00C316.60,571.39,339.20,714.78,361.80,770.90C384.40,827.01,407.00,850.18,429.60,855.07C452.20,859.95,474.80,860.56,497.40,862.40C520.00,864.23,542.60,866.06,565.20,866.06C587.80,866.06,610.40,859.60,633.00,857.39C655.60,855.17,678.20,852.79,700.80,852.79C723.40,852.79,746.00,864.31,768.60,869.26C791.20,874.22,813.80,881.33,836.40,882.53C859.00,883.74,881.60,884.03,904.20,884.34C926.80,884.65,949.40,884.81,972.00,884.81C994.60,884.81,1017.20,884.81,1039.80,884.81C1062.40,884.81,1085.00,882.53,1107.60,882.53C1130.20,882.53,1152.80,883.00,1175.40,883.00C1198.00,883.00,1220.60,879.33,1243.20,879.33C1265.80,879.33,1288.40,882.53,1311.00,882.53C1333.60,882.53,1356.20,881.14,1378.80,881.14C1401.40,881.14,1424.00,885.27,1446.60,885.27C1469.20,885.27,1491.80,885.27,1514.40,885.27C1537.00,885.27,1559.60,885.27,1582.20,885.27C1604.80,885.27,1627.40,884.95,1650.00,884.58C1672.60,884.20,1695.20,883.00,1717.80,883.00C1740.40,883.00,1763.00,884.81,1785.60,884.81C1808.20,884.81,1830.80,883.88,1853.40,883.88C1876.00,883.88,1898.60,885.27,1921.20,885.27C1943.80,885.27,1966.40,882.07,1989.00,882.07C2011.60,882.07,2034.20,882.62,2056.80,883.00C2079.40,883.38,2102.00,883.97,2124.60,884.34C2147.20,884.72,2169.80,885.04,2192.40,885.27C2215.00,885.50,2237.60,885.74,2260.20,885.74C2282.80,885.74,2305.40,884.37,2328.00,883.00L2328.00,892.00L294.00,892.00Z" fill="url(#g_green)" stroke="none"/><path d="M294.00,428.00C316.60,571.39,339.20,714.78,361.80,770.90C384.40,827.01,407.00,850.18,429.60,855.07C452.20,859.95,474.80,860.56,497.40,862.40C520.00,864.23,542.60,866.06,565.20,866.06C587.80,866.06,610.40,859.60,633.00,857.39C655.60,855.17,678.20,852.79,700.80,852.79C723.40,852.79,746.00,864.31,768.60,869.26C791.20,874.22,813.80,881.33,836.40,882.53C859.00,883.74,881.60,884.03,904.20,884.34C926.80,884.65,949.40,884.81,972.00,884.81C994.60,884.81,1017.20,884.81,1039.80,884.81C1062.40,884.81,1085.00,882.53,1107.60,882.53C1130.20,882.53,1152.80,883.00,1175.40,883.00C1198.00,883.00,1220.60,879.33,1243.20,879.33C1265.80,879.33,1288.40,882.53,1311.00,882.53C1333.60,882.53,1356.20,881.14,1378.80,881.14C1401.40,881.14,1424.00,885.27,1446.60,885.27C1469.20,885.27,1491.80,885.27,1514.40,885.27C1537.00,885.27,1559.60,885.27,1582.20,885.27C1604.80,885.27,1627.40,884.95,1650.00,884.58C1672.60,884.20,1695.20,883.00,1717.80,883.00C1740.40,883.00,1763.00,884.81,1785.60,884.81C1808.20,884.81,1830.80,883.88,1853.40,883.88C1876.00,883.88,1898.60,885.27,1921.20,885.27C1943.80,885.27,1966.40,882.07,1989.00,882.07C2011.60,882.07,2034.20,882.62,2056.80,883.00C2079.40,883.38,2102.00,883.97,2124.60,884.34C2147.20,884.72,2169.80,885.04,2192.40,885.27C2215.00,885.50,2237.60,885.74,2260.20,885.74C2282.80,885.74,2305.40,884.37,2328.00,883.00" fill="none" stroke="#5C9E53" stroke-width="4" stroke-opacity="0.95" stroke-linejoin="round" stroke-linecap="butt"/>
</g>
<line x1="2328" y1="428.0" x2="2328" y2="892.0" stroke="#9AA1B2" stroke-width="2"/>
</svg>
<div class="track"></div><div class="bar"></div>
<div class="thumb" style="left:44px"></div><div class="thumb" style="left:2538px"></div>
</div>
</body></html>
